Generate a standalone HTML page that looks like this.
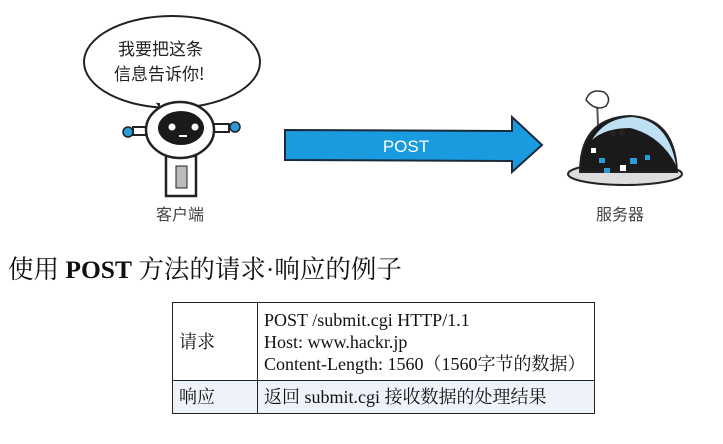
<!DOCTYPE html>
<html><head><meta charset="utf-8"><style>
body{margin:0;width:723px;height:444px;background:#fff;overflow:hidden;position:relative;font-family:"Liberation Serif","Noto Serif CJK SC",serif}
.h{position:absolute;left:8px;top:250px;font-size:25.5px;color:#111;white-space:nowrap}
table{position:absolute;left:172px;top:302px;border-collapse:collapse;font-size:18px;color:#111}
td{border:1px solid #222;padding:0 6px;line-height:22px}
</style></head><body>
<svg width="723" height="240" style="position:absolute;left:0;top:0">
<ellipse cx="172" cy="62" rx="88" ry="46" fill="#fff" stroke="#222" stroke-width="2"/>
<path d="M158 104 L168 117 L172 106 Z" fill="#fff" stroke="#222" stroke-width="2"/>
<path d="M160 104 L172 105" stroke="#fff" stroke-width="4"/>
<text x="118" y="55" font-family="Noto Sans CJK SC,sans-serif" font-size="17" fill="#222">我要把这条</text>
<text x="114" y="80" font-family="Noto Sans CJK SC,sans-serif" font-size="17" fill="#222">信息告诉你!</text>
<rect x="133" y="127" width="20" height="8" fill="#fff" stroke="#222" stroke-width="2"/>
<rect x="205" y="124" width="24" height="8" fill="#fff" stroke="#222" stroke-width="2"/>
<circle cx="128" cy="132" r="5" fill="#2a9ad8" stroke="#222" stroke-width="1.5"/>
<circle cx="235" cy="127" r="5" fill="#2a9ad8" stroke="#222" stroke-width="1.5"/>
<rect x="166" y="156" width="30" height="40" fill="#fff" stroke="#222" stroke-width="2.5"/>
<rect x="176" y="166" width="11" height="22" fill="#bbb" stroke="#222"/>
<ellipse cx="180" cy="130" rx="34" ry="28" fill="#fff" stroke="#222" stroke-width="2.5"/>
<ellipse cx="181" cy="128" rx="23" ry="17" fill="#1a1a1a"/>
<circle cx="172" cy="127" r="3.5" fill="#fff"/><circle cx="195" cy="127" r="3.5" fill="#fff"/>
<rect x="179" y="135" width="8" height="2" fill="#fff"/>
<text x="180" y="220" text-anchor="middle" font-family="Noto Sans CJK SC,sans-serif" font-size="16" fill="#444">客户端</text>
<path d="M285 130 L512 131 L512 117 L542 145 L512 172 L512 161 L285 160 Z" fill="#1a9be0" stroke="#1a2a3a" stroke-width="2"/>
<text x="406" y="152" text-anchor="middle" font-family="Liberation Sans,sans-serif" font-size="17" fill="#fff">POST</text>
<path d="M598 125 L597 100" stroke="#555" stroke-width="2"/>
<path d="M586 100 Q590 88 604 92 Q612 98 606 106 Q596 112 586 100 Z" fill="#fff" stroke="#333" stroke-width="1.5"/>
<ellipse cx="625" cy="174" rx="57" ry="11" fill="#ddd" stroke="#222" stroke-width="2"/>
<path d="M580 172 Q580 118 630 116 Q675 118 677 172 Z" fill="#1a1a1a" stroke="#222" stroke-width="2"/>
<path d="M592 140 Q605 118 632 117 Q668 120 676 165 Q660 135 630 128 Q605 128 592 140 Z" fill="#bfe0f2"/>
<circle cx="613" cy="133" r="3" fill="#222"/><circle cx="622" cy="133" r="3" fill="#222"/>
<rect x="591" y="148" width="5" height="5" fill="#fff"/><rect x="599" y="158" width="6" height="5" fill="#2a9ad8"/>
<rect x="604" y="168" width="6" height="5" fill="#2a9ad8"/><rect x="620" y="165" width="6" height="6" fill="#fff"/>
<rect x="630" y="158" width="7" height="6" fill="#2a9ad8"/><rect x="645" y="155" width="5" height="5" fill="#2a9ad8"/>
<text x="620" y="220" text-anchor="middle" font-family="Noto Sans CJK SC,sans-serif" font-size="16" fill="#444">服务器</text>
</svg>
<div class="h">使用 <b>POST</b> 方法的请求·响应的例子</div>
<table>
<tr style="height:78px"><td style="width:72px">请求</td><td style="width:324px">POST /submit.cgi HTTP/1.1<br>Host: www.hackr.jp<br>Content-Length: 1560（1560字节的数据）</td></tr>
<tr style="height:33px;background:#eef2f9"><td>响应</td><td>返回 submit.cgi 接收数据的处理结果</td></tr>
</table>
</body></html>
